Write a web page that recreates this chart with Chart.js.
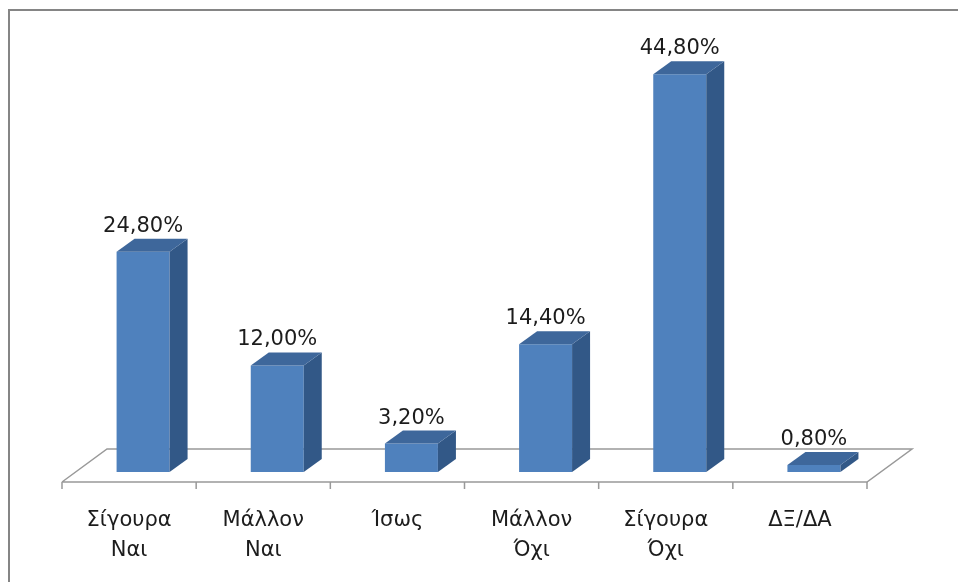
<!DOCTYPE html>
<html>
<head>
<meta charset="utf-8">
<script src="https://cdn.jsdelivr.net/npm/chart.js@4"></script>
<style>
html,body{margin:0;padding:0;background:#fff;}
#wrap{position:relative;width:958px;height:582px;}
</style>
</head>
<body>
<div id="wrap"><canvas id="c" width="958" height="582"></canvas></div>
<script>
const categories = [["Σίγουρα","Ναι"],["Μάλλον","Ναι"],["Ίσως"],["Μάλλον","Όχι"],["Σίγουρα","Όχι"],["ΔΞ/ΔΑ"]];
const values = [24.8, 12.0, 3.2, 14.4, 44.8, 0.8];
const valueLabels = ["24,80%","12,00%","3,20%","14,40%","44,80%","0,80%"];

const FONT = '21px "DejaVu Sans"';
const DEPTH_X = 18, DEPTH_Y = 13;      // bar depth
const FLOOR_DX = 45, FLOOR_DY = 33;    // floor depth
const FRONT_SHIFT = 14, FRONT_DROP = 10; // bar front plane vs floor front edge

const threeD = {
  id: 'threeD',
  beforeDatasetsDraw(chart) {
    const {ctx, chartArea, scales} = chart;
    const x = scales.x;
    const y0 = scales.y.getPixelForValue(0);
    const fy = y0 + FRONT_DROP;
    const fl = chartArea.left - FRONT_SHIFT, fr = chartArea.right - FRONT_SHIFT;
    ctx.save();
    // frame
    ctx.strokeStyle = '#858585'; ctx.lineWidth = 2;
    ctx.beginPath(); ctx.moveTo(9, 582); ctx.lineTo(9, 10); ctx.lineTo(958, 10); ctx.stroke();
    // floor
    ctx.strokeStyle = '#999999'; ctx.lineWidth = 1.5;
    ctx.beginPath();
    ctx.moveTo(fl, fy); ctx.lineTo(fl + FLOOR_DX, fy - FLOOR_DY);
    ctx.lineTo(fr + FLOOR_DX, fy - FLOOR_DY); ctx.lineTo(fr, fy); ctx.lineTo(fl, fy);
    ctx.stroke();
    // ticks
    const n = categories.length;
    ctx.beginPath();
    for (let i = 0; i <= n; i++) {
      const px = fl + (fr - fl) * i / n;
      ctx.moveTo(px, fy); ctx.lineTo(px, fy + 7);
    }
    ctx.stroke();
    // category labels
    ctx.fillStyle = '#1c1c1c'; ctx.font = FONT; ctx.textAlign = 'center'; ctx.textBaseline = 'middle';
    categories.forEach((lab, i) => {
      const px = x.getPixelForValue(i) - FRONT_SHIFT;
      lab.forEach((line, j) => ctx.fillText(line, px, fy + 39 + j * 30));
    });
    ctx.restore();
  },
  afterDatasetsDraw(chart) {
    const {ctx} = chart;
    const meta = chart.getDatasetMeta(0);
    ctx.save();
    meta.data.forEach((bar, i) => {
      const p = bar.getProps(['x','y','base','width'], true);
      const l = p.x - p.width/2, r = p.x + p.width/2;
      // side
      ctx.fillStyle = '#325887';
      ctx.beginPath();
      ctx.moveTo(r, p.y); ctx.lineTo(r + DEPTH_X, p.y - DEPTH_Y);
      ctx.lineTo(r + DEPTH_X, p.base - DEPTH_Y); ctx.lineTo(r, p.base); ctx.closePath(); ctx.fill();
      // top
      ctx.fillStyle = '#3e679b';
      ctx.beginPath();
      ctx.moveTo(l, p.y); ctx.lineTo(l + DEPTH_X, p.y - DEPTH_Y);
      ctx.lineTo(r + DEPTH_X, p.y - DEPTH_Y); ctx.lineTo(r, p.y); ctx.closePath(); ctx.fill();
      // value label
      ctx.fillStyle = '#1c1c1c'; ctx.font = FONT; ctx.textAlign = 'center'; ctx.textBaseline = 'alphabetic';
      ctx.fillText(valueLabels[i], p.x, p.y - 20);
    });
    ctx.restore();
  }
};

new Chart(document.getElementById('c'), {
  type: 'bar',
  data: {
    labels: categories,
    datasets: [{ data: values, backgroundColor: '#4f81bd', borderWidth: 0,
      barPercentage: 0.395, categoryPercentage: 1 }]
  },
  options: {
    responsive: false, animation: false,
    layout: { padding: { left: 76, right: 77, top: 28, bottom: 110 } },
    plugins: { legend: { display: false }, tooltip: { enabled: false } },
    scales: {
      x: { display: false },
      y: { display: false, min: 0, max: 50 }
    }
  },
  plugins: [threeD]
});
</script>
</body>
</html>
